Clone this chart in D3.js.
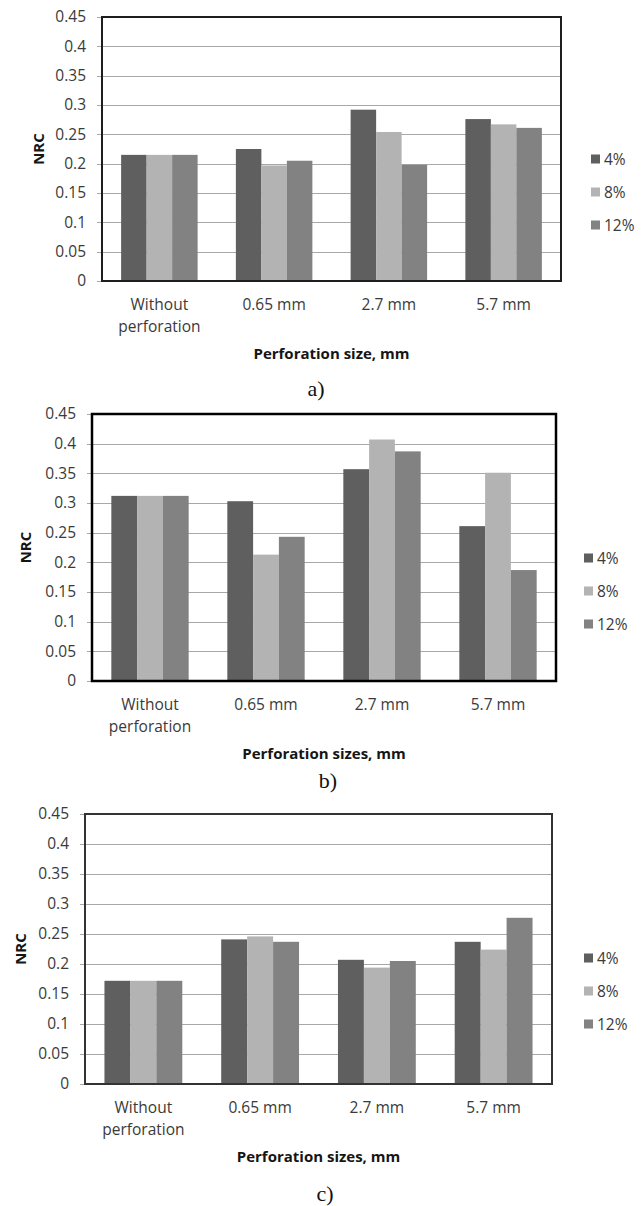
<html lang="en">
<head>
  <meta charset="UTF-8"/>
  <title>NRC by perforation size</title>
  <script src="https://d3js.org/d3.v7.min.js"></script>
  <style>
    body { margin: 0; background: #fff; }
    text { font-family: 'Open Sans', sans-serif; fill: #3a3a3a; }
    .tick text { font-size: 15.5px; fill: #3a3a3a; }
    .grid line { stroke: #a8a8a8; stroke-width: 1; shape-rendering: crispEdges; }
    .axis-title { font-size: 15px; font-weight: bold; fill: #151515; }
    .caption { font-family: 'Liberation Serif', 'Times New Roman', serif; font-size: 22px; fill: #111; }
    .legend text { font-size: 15.5px; }
  </style>
</head>
<body>
  <svg width="643" height="1206"></svg>

  <script>

  const categories = ['Without perforation', '0.65 mm', '2.7 mm', '5.7 mm'];
  const seriesNames = ['4%', '8%', '12%'];
  const seriesColors = ['#5f5f5f', '#b3b3b3', '#828282'];
  const yTicks = [0, 0.05, 0.1, 0.15, 0.2, 0.25, 0.3, 0.35, 0.4, 0.45];
  const yTickLabels = ['0', '0.05', '0.1', '0.15', '0.2', '0.25', '0.3', '0.35', '0.4', '0.45'];

  // chart a)
  const a4 = [0.215, 0.225, 0.292, 0.276];
  const a8 = [0.215, 0.197, 0.254, 0.267];
  const a12 = [0.215, 0.205, 0.198, 0.261];

  // chart b)
  const b4 = [0.312, 0.303, 0.357, 0.261];
  const b8 = [0.312, 0.213, 0.407, 0.351];
  const b12 = [0.312, 0.243, 0.387, 0.187];

  // chart c)
  const c4 = [0.172, 0.241, 0.207, 0.237];
  const c8 = [0.172, 0.246, 0.194, 0.224];
  const c12 = [0.172, 0.237, 0.205, 0.277];

  const charts = [
    { series: [a4, a8, a12], title: 'Perforation size, mm', caption: 'a)',
      left: 102, right: 561, top: 17, bottom: 281, frame: '#1e1e1e', frameW: 2,
      legendX: 591, legendY: 159, nrcX: 39, capX: 316, capY: 396 },
    { series: [b4, b8, b12], title: 'Perforation sizes, mm', caption: 'b)',
      left: 92, right: 556, top: 414, bottom: 681, frame: '#000', frameW: 2.5,
      legendX: 584, legendY: 558, nrcX: 26, capX: 328, capY: 788 },
    { series: [c4, c8, c12], title: 'Perforation sizes, mm', caption: 'c)',
      left: 85, right: 552, top: 814, bottom: 1084, frame: '#333', frameW: 2,
      legendX: 584, legendY: 958, nrcX: 21, capX: 325, capY: 1201 }
  ];

  const svg = d3.select('svg');

  function wrap(text, width) {
    text.each(function () {
      const t = d3.select(this);
      const words = t.text().split(/\s+/);
      const y = t.attr('y');
      const dy = parseFloat(t.attr('dy'));
      t.text(null);
      let line = [];
      let lineNo = 0;
      let tspan = t.append('tspan').attr('x', 0).attr('y', y).attr('dy', dy + 'em');
      words.forEach((w) => {
        line.push(w);
        tspan.text(line.join(' '));
        if (tspan.node().getComputedTextLength() > width && line.length > 1) {
          line.pop();
          tspan.text(line.join(' '));
          line = [w];
          lineNo++;
          tspan = t.append('tspan').attr('x', 0).attr('y', y)
            .attr('dy', (dy + lineNo * 1.39) + 'em').text(w);
        }
      });
    });
  }

  charts.forEach((cfg) => {
    const width = cfg.right - cfg.left;
    const height = cfg.bottom - cfg.top;

    const chart = svg.append('g')
      .attr('transform', `translate(${cfg.left}, ${cfg.top})`);

    const xScale = d3.scaleBand()
      .domain(categories)
      .range([0, width])
      .padding(0);

    const band = xScale.bandwidth();
    const xInner = d3.scaleBand()
      .domain(seriesNames)
      .range([band / 6, band - band / 6]);

    const yScale = d3.scaleLinear()
      .domain([0, 0.45])
      .range([height, 0]);

    // grid lines + tick marks
    const yAxis = chart.append('g')
      .attr('class', 'grid')
      .call(d3.axisLeft(yScale)
        .tickValues(yTicks)
        .tickFormat((d, i) => yTickLabels[i])
        .tickSize(5)
        .tickPadding(11));
    yAxis.select('.domain').remove();
    yAxis.selectAll('.tick line').attr('x2', width);
    yAxis.selectAll('.tick line').attr('x1', -5);

    // bars
    const groups = chart.selectAll('.cat')
      .data(categories)
      .enter()
      .append('g')
      .attr('class', 'cat')
      .attr('transform', (c) => `translate(${xScale(c)}, 0)`);

    groups.selectAll('rect')
      .data((c, ci) => seriesNames.map((s, si) => ({ s, si, v: cfg.series[si][ci] })))
      .enter()
      .append('rect')
      .attr('x', (d) => xInner(d.s))
      .attr('y', (d) => yScale(d.v))
      .attr('width', xInner.bandwidth())
      .attr('height', (d) => height - yScale(d.v))
      .attr('fill', (d) => seriesColors[d.si]);

    // frame
    chart.append('rect')
      .attr('x', 0)
      .attr('y', 0)
      .attr('width', width)
      .attr('height', height)
      .attr('fill', 'none')
      .attr('stroke', cfg.frame)
      .attr('stroke-width', cfg.frameW);

    // category labels
    const xAxis = chart.append('g')
      .attr('transform', `translate(0, ${height})`)
      .call(d3.axisBottom(xScale).tickSize(0).tickPadding(18));
    xAxis.select('.domain').remove();
    xAxis.selectAll('.tick text').call(wrap, band - 10);

    // axis titles
    svg.append('text')
      .attr('class', 'axis-title')
      .attr('x', cfg.left + width / 2)
      .attr('y', cfg.bottom + 78)
      .attr('text-anchor', 'middle')
      .text(cfg.title);

    svg.append('text')
      .attr('class', 'axis-title')
      .attr('transform', `translate(${cfg.nrcX}, ${cfg.top + height / 2}) rotate(-90)`)
      .attr('dy', '0.35em')
      .attr('text-anchor', 'middle')
      .text('NRC');

    // legend
    const legend = svg.append('g')
      .attr('class', 'legend')
      .attr('transform', `translate(${cfg.legendX}, ${cfg.legendY})`);

    const items = legend.selectAll('g')
      .data(seriesNames)
      .enter()
      .append('g')
      .attr('transform', (d, i) => `translate(0, ${i * 33})`);

    items.append('rect')
      .attr('x', 0)
      .attr('y', -4.5)
      .attr('width', 9)
      .attr('height', 9)
      .attr('fill', (d, i) => seriesColors[i]);

    items.append('text')
      .attr('x', 13)
      .attr('dy', '0.36em')
      .text((d) => d);

    svg.append('text')
      .attr('class', 'caption')
      .attr('x', cfg.capX)
      .attr('y', cfg.capY)
      .attr('text-anchor', 'middle')
      .text(cfg.caption);
  });

  </script>
</body>
</html>
